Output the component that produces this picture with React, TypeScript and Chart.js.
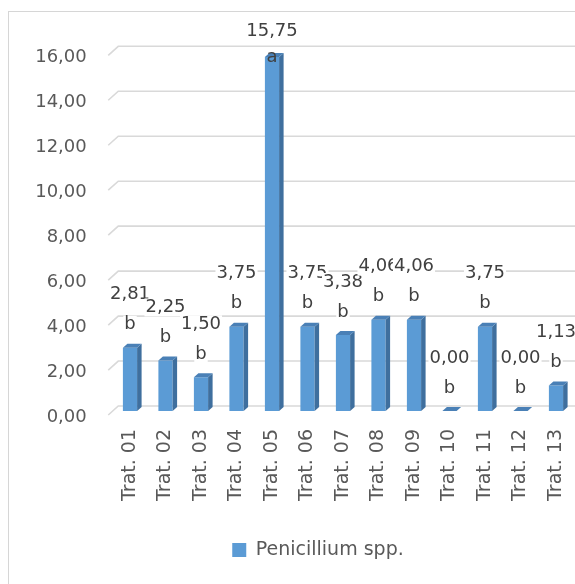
import React, { useEffect, useRef } from "react";
import { Chart, registerables } from "chart.js";

Chart.register(...registerables);

// Treatments and mean Penicillium counts with their significance letters
const categories = [
  "Trat. 01", "Trat. 02", "Trat. 03", "Trat. 04", "Trat. 05", "Trat. 06", "Trat. 07",
  "Trat. 08", "Trat. 09", "Trat. 10", "Trat. 11", "Trat. 12", "Trat. 13",
];
const penicilliumValues = [2.81, 2.25, 1.5, 3.75, 15.75, 3.75, 3.38, 4.06, 4.06, 0.0, 3.75, 0.0, 1.13];
const groupLetters = ["b", "b", "b", "b", "a", "b", "b", "b", "b", "b", "b", "b", "b"];
const yTickValues = [0, 2, 4, 6, 8, 10, 12, 14, 16];
const seriesName = "Penicillium spp.";

// The chart is wider than the window; its right part falls outside the view
const W = 636;
const H = 584;
const FONT = "'DejaVu Sans', sans-serif";

const FRONT = "#5b9bd5";
const SIDE = "#3f6f9e";
const TOP = "#4a80b6";
const GRID = "#d9d9d9";

const fmt = (v: number) => v.toFixed(2).replace(".", ",");

// Back-wall gridlines with a short slanted segment on the side wall
const wallGrid = {
  id: "wallGrid",
  beforeDatasetsDraw(chart: any) {
    const { ctx, chartArea } = chart;
    const y = chart.scales.y;
    ctx.save();
    ctx.strokeStyle = GRID;
    ctx.lineWidth = 1.6;
    yTickValues.forEach((v) => {
      const yb = y.getPixelForValue(v) - 5;
      ctx.beginPath();
      ctx.moveTo(chartArea.left - 4, yb + 9);
      ctx.lineTo(chartArea.left + 6, yb);
      ctx.lineTo(chartArea.right + 20, yb);
      ctx.stroke();
    });
    ctx.restore();
  },
};

// Side and top faces that give the columns their depth
const columnDepth = {
  id: "columnDepth",
  afterDatasetsDraw(chart: any) {
    const { ctx } = chart;
    const meta = chart.getDatasetMeta(0);
    const dx = 4.5;
    const dy = 4;
    ctx.save();
    meta.data.forEach((el: any) => {
      const { x, y, base, width } = el.getProps(["x", "y", "base", "width"], true);
      const l = x - width / 2;
      const r = x + width / 2;
      ctx.fillStyle = SIDE;
      ctx.beginPath();
      ctx.moveTo(r, y);
      ctx.lineTo(r + dx, y - dy);
      ctx.lineTo(r + dx, base - dy);
      ctx.lineTo(r, base);
      ctx.closePath();
      ctx.fill();
      ctx.fillStyle = TOP;
      ctx.beginPath();
      ctx.moveTo(l, y);
      ctx.lineTo(l + dx, y - dy);
      ctx.lineTo(r + dx, y - dy);
      ctx.lineTo(r, y);
      ctx.closePath();
      ctx.fill();
    });
    ctx.restore();
  },
};

// Value and letter above each column, on a white label box
const valueLabels = {
  id: "valueLabels",
  afterDatasetsDraw(chart: any) {
    const { ctx, chartArea } = chart;
    const meta = chart.getDatasetMeta(0);
    ctx.save();
    ctx.font = `18px ${FONT}`;
    ctx.textAlign = "center";
    ctx.textBaseline = "middle";
    meta.data.forEach((el: any, i: number) => {
      const { x, y } = el.getProps(["x", "y"], true);
      const minY = chartArea.top - 20;
      let valY = y - 53;
      let letY = y - 23;
      if (valY < minY) {
        valY = minY;
        letY = minY + 26;
      }
      const valText = fmt(penicilliumValues[i]);
      const letText = groupLetters[i];
      const wv = ctx.measureText(valText).width;
      const wl = ctx.measureText(letText).width;
      ctx.fillStyle = "#ffffff";
      ctx.fillRect(x - wv / 2 - 1, valY - 9, wv + 2, 18);
      // a letter pushed down onto its own column sits directly on the bar
      if (letY + 9 <= y) ctx.fillRect(x - wl / 2 - 1, letY - 9, wl + 2, 18);
      ctx.fillStyle = "#404040";
      ctx.fillText(valText, x, valY);
      ctx.fillText(letText, x, letY);
    });
    ctx.restore();
  },
};

export default function App() {
  const ref = useRef<HTMLCanvasElement | null>(null);

  useEffect(() => {
    document.body.style.overflow = "hidden";
    if (!ref.current) return;
    const chart = new Chart(ref.current, {
      type: "bar",
      data: {
        labels: categories,
        datasets: [
          {
            label: seriesName,
            data: penicilliumValues,
            backgroundColor: FRONT,
            borderWidth: 0,
            barPercentage: 0.5,
            categoryPercentage: 0.8,
          },
        ],
      },
      options: {
        animation: false,
        responsive: false,
        layout: { padding: { left: 0, right: 0, top: 51.3, bottom: 14.5 } },
        scales: {
          x: {
            grid: { display: false, drawTicks: false },
            border: { display: false },
            ticks: {
              minRotation: 90,
              maxRotation: 90,
              padding: 18,
              color: "#595959",
              font: { family: FONT, size: 19 },
            },
            afterFit: (scale: any) => {
              scale.height = 119.5;
            },
          },
          y: {
            position: "left",
            min: 0,
            max: 16,
            grid: { display: false, drawTicks: false },
            border: { display: false },
            afterBuildTicks: (scale: any) => {
              scale.ticks = yTickValues.map((v) => ({ value: v }));
            },
            ticks: {
              padding: 25.5,
              labelOffset: 6,
              color: "#595959",
              font: { family: FONT, size: 18 },
              callback: (v: any) => fmt(Number(v)),
            },
            afterFit: (scale: any) => {
              scale.width = 112.25;
            },
          },
          // empty right margin of the plot (cut off by the window)
          yRight: {
            position: "right",
            min: 0,
            max: 16,
            grid: { display: false, drawTicks: false },
            border: { display: false },
            ticks: { display: false },
            afterFit: (scale: any) => {
              scale.width = W - 573.75;
            },
          },
        },
        plugins: {
          legend: {
            position: "bottom",
            labels: {
              boxWidth: 14,
              boxHeight: 14,
              padding: 10,
              color: "#595959",
              font: { family: FONT, size: 19 },
            },
          },
          tooltip: { enabled: false },
        },
      },
      plugins: [wallGrid, columnDepth, valueLabels],
    });
    return () => chart.destroy();
  }, []);

  return (
    <>
      <div
        style={{
          position: "fixed",
          left: 8,
          top: 11,
          width: 700,
          height: 700,
          border: "1px solid #d6d6d6",
          background: "#ffffff",
        }}
      />
      <canvas
        ref={ref}
        width={W}
        height={H}
        style={{ position: "fixed", left: 0, top: 0, width: W, height: H }}
      />
    </>
  );
}
